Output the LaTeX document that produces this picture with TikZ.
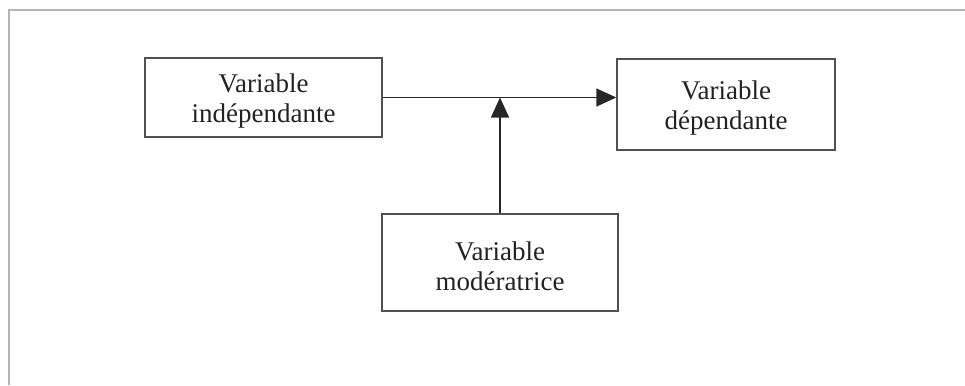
\documentclass[tikz,border=0pt]{standalone}
\usepackage{fontspec}
\setmainfont{Liberation Serif}
\usepackage{xcolor}
\usepackage{tikz}
\usetikzlibrary{arrows.meta}
\usetikzlibrary{positioning}
\definecolor{framegray}{HTML}{B4B4B8}
\definecolor{boxgray}{HTML}{505050}
\definecolor{textgray}{HTML}{222222}
\newcommand{\lowstrut}{\rule{0pt}{26pt}}
\tikzset{
    var_node/.style = {align=center, inner sep=0pt, text centered, rectangle, draw=boxgray, line width=1.4pt, text=textgray, font=\fontsize{27}{30}\selectfont},
    frame_line/.style = {draw=framegray, line width=2.2pt},
    link/.style = {draw=black!85, line width=1.4pt}
}

\begin{document}
\begin{tikzpicture}
            [x=1pt, y=-1pt,
            -{Triangle[length=20pt, width=18pt]}]

            \useasboundingbox (0,0) rectangle (965,385);

            % outer frame (top and left side only)
            \draw [frame_line, -] (9,385) -- (9,10) -- (965,10);

            \node (indep) [var_node, minimum width=237pt, minimum height=79pt] at (263.5,97.5) {\lowstrut Variable\\indépendante};
            \node (dep) [var_node, minimum width=218pt, minimum height=91pt] at (726,104.5) {\lowstrut Variable\\dépendante};
            \node (moder) [var_node, minimum width=236pt, minimum height=97pt] at (500,262.5) {\lowstrut Variable\\modératrice};

            \draw [link] (indep.east) -- (indep.east -| dep.west);
            \draw [link] (moder.north) -- (moder.north |- indep.east);
        \end{tikzpicture}
\end{document}
